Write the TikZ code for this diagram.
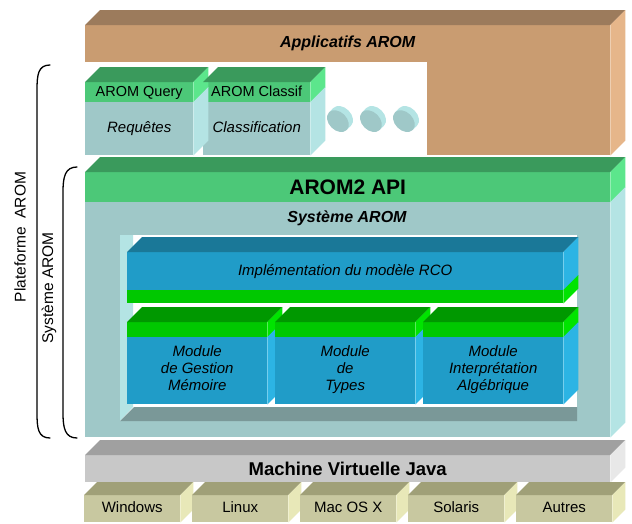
\documentclass[tikz,border=0pt]{standalone}
\usepackage{fontspec}
\setmainfont{Liberation Sans}
\usetikzlibrary{backgrounds}

\definecolor{brtop}{HTML}{9C7B5C}
\definecolor{brfront}{HTML}{C99C71}
\definecolor{brside}{HTML}{E6B68A}
\definecolor{gtop}{HTML}{3A9A5C}
\definecolor{gfront}{HTML}{4CC878}
\definecolor{gside}{HTML}{5CE68C}
\definecolor{tfront}{HTML}{9FC8C8}
\definecolor{tside}{HTML}{B4E4E4}
\definecolor{tfloor}{HTML}{7A9898}
\definecolor{btop}{HTML}{1A7898}
\definecolor{bfront}{HTML}{209CC8}
\definecolor{bside}{HTML}{2CB4E4}
\definecolor{lgtop}{HTML}{009800}
\definecolor{lgfront}{HTML}{00C800}
\definecolor{lgside}{HTML}{00E400}
\definecolor{grtop}{HTML}{A0A0A0}
\definecolor{grfront}{HTML}{C8C8C8}
\definecolor{grside}{HTML}{E8E8E8}
\definecolor{ostop}{HTML}{A0A078}
\definecolor{osfront}{HTML}{C8C8A0}
\definecolor{osside}{HTML}{E8E8B8}

\newcommand{\topface}[3][15]{\fill[#3] (#2.north west) -- ++(#1,-#1) -- ([shift={(#1,-#1)}]#2.north east) -- (#2.north east) -- cycle;}
\newcommand{\sideface}[4][15]{\fill[#4] (#2.north east) -- ++(#1,-#1) -- ([shift={(#1,-#1)}]#3.south east) -- (#3.south east) -- cycle;}

\begin{document}
\begin{tikzpicture}[x=1pt,y=-1pt,
	blk/.style={anchor=north west,inner sep=0pt,align=center,font=\fontsize{15}{17}\selectfont},
	one/.style={text height=11pt,text depth=3pt},
	title/.style={font=\fontsize{16}{19}\selectfont\bfseries\itshape},
	brack/.style={line width=1.3pt,line cap=round}]
	\fill[white] (0,0) rectangle (632,523);
	\useasboundingbox (0,0) rectangle (632,523);

	\path (85,25) node[blk,fill=brfront,minimum width=525,minimum height=37,title,one] (app) {Applicatifs AROM}
	(427,62) node[blk,fill=brfront,minimum width=183,minimum height=93] (appcol) {};
	\topface{app}{brtop}
	\sideface{app}{appcol}{brside}

	\path (85,82) node[blk,one,fill=gfront,minimum width=108,minimum height=20,font=\fontsize{14.5}{17}\selectfont] (query) {AROM Query}
	(85,102) node[blk,one,fill=tfront,minimum width=108,minimum height=53,font=\fontsize{15}{17}\selectfont\itshape] (req) {Requêtes}
	(203,82) node[blk,one,fill=gfront,minimum width=107,minimum height=20,font=\fontsize{14.5}{17}\selectfont] (classif) {AROM Classif}
	(203,102) node[blk,one,fill=tfront,minimum width=107,minimum height=53,font=\fontsize{15}{17}\selectfont\itshape] (cla) {Classification};
	\topface{query}{gtop} \sideface{query}{query}{gside} \sideface{req}{req}{tside}
	\topface{classif}{gtop} \sideface{classif}{classif}{gside} \sideface{cla}{cla}{tside}

	\foreach \cx in {340,373,406}{
		\begin{scope}[shift={(\cx,119)},rotate=45]
			\fill[tside] (3,0) ellipse [x radius=9,y radius=12.5];
			\fill[tside] (-3,-12.5) rectangle (3,12.5);
			\fill[tfront] (-3,0) ellipse [x radius=9,y radius=12.5];
		\end{scope}
	}

	\path (85,172) node[blk,fill=gfront,minimum width=525,minimum height=30,font=\fontsize{21}{24}\selectfont\bfseries] (api) {AROM2 API}
	(85,202) node[blk,fill=tfront,minimum width=525,minimum height=235] (sys) {}
	(347,218) node[title,one] (systxt) {Système AROM};
	\topface{api}{gtop}
	\sideface{api}{api}{gside}
	\sideface{sys}{sys}{tside}
	\fill[white] (120,235) rectangle (577,421);
	\fill[tside] (120,235) -- (133,235) -- (133,407) -- (120,421) -- cycle;
	\fill[tfloor] (120,421) -- (134,407) -- (577,407) -- (577,421) -- cycle;

	\path (127,252) node[blk,one,fill=bfront,minimum width=436,minimum height=38,font=\fontsize{15}{17}\selectfont\itshape] (impl) {Implémentation du modèle RCO}
	(127,290) node[blk,fill=lgfront,minimum width=436,minimum height=13] (implg) {};
	\topface{impl}{btop}
	\sideface{impl}{impl}{bside}
	\sideface{implg}{implg}{lgside}

	\foreach \i/\x/\txt in {1/127/{Module\\de Gestion\\Mémoire},2/275/{Module\\de\\Types},3/423/{Module\\Interprétation\\Algébrique}}{
		\path (\x,322) node[blk,fill=lgfront,minimum width=140,minimum height=15] (modg\i) {}
		(\x,337) node[blk,fill=bfront,minimum width=140,minimum height=67,font=\fontsize{15}{17}\selectfont\itshape] (mod\i) {\txt\strut};
		\topface{modg\i}{lgtop}
		\sideface{modg\i}{modg\i}{lgside}
		\sideface{mod\i}{mod\i}{bside}
	}

	\path (85,455) node[blk,fill=grfront,minimum width=525,minimum height=27,font=\fontsize{18.5}{21}\selectfont\bfseries] (jvm) {Machine Virtuelle Java};
	\topface{jvm}{grtop}
	\sideface{jvm}{jvm}{grside}

	\foreach \i/\os in {0/Windows,1/Linux,2/Mac OS X,3/Solaris,4/Autres}{
		\path ({84+108*\i},495) node[blk,one,fill=osfront,minimum width=96,minimum height=27] (os\i) {\os};
		\topface[13]{os\i}{ostop}
		\sideface[13]{os\i}{os\i}{osside}
	}

	\draw[brack] (50,65) .. controls (38,65) and (37,75) .. (37,90) -- (37,413) .. controls (37,428) and (38,438) .. (50,438);
	\draw[brack] (77,167) .. controls (65,167) and (63,177) .. (63,192) -- (63,413) .. controls (63,428) and (65,438) .. (77,438);
	\path (20,237) node[rotate=90,font=\fontsize{15.5}{18}\selectfont] (plat) {Plateforme\ \ AROM}
	(49,288) node[rotate=90,font=\fontsize{15.5}{18}\selectfont] (sysv) {Système AROM};
\end{tikzpicture}
\end{document}
